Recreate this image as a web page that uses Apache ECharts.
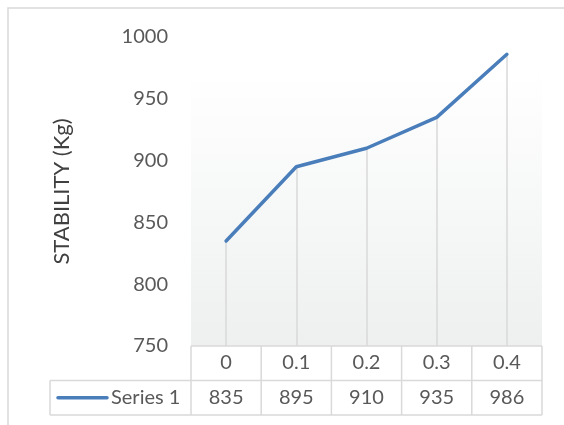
<!DOCTYPE html>
<html>
<head>
<meta charset="utf-8">
<script src="https://cdn.jsdelivr.net/npm/echarts@6/dist/echarts.min.js"></script>
<style>
  html, body { margin: 0; padding: 0; background: #fff; }
  #main { width: 564px; height: 425px; }
</style>
</head>
<body>
<div id="main"></div>
<script>
var categories = ['0', '0.1', '0.2', '0.3', '0.4'];
var stability = [835, 895, 910, 935, 986];
var seriesName = 'Series 1';
var yTicks = [750, 800, 850, 900, 950, 1000];

var yMin = yTicks[0], yMax = yTicks[yTicks.length - 1];
var font = 'Lato, "Open Sans", sans-serif';
var textGray = '#595959';
var borderGray = '#d9d9d9';
var lineBlue = '#4a7ebb';

// drop lines from each point down to the axis
var dropLines = stability.map(function (v, i) {
    return [{ xAxis: i, yAxis: yMin }, { xAxis: i, yAxis: v }];
});

var option = {
    animation: false,
    backgroundColor: '#fff',
    grid: {
        left: 191, right: 22, top: 37, bottom: 79,
        show: true,
        borderWidth: 0,
        backgroundColor: new echarts.graphic.LinearGradient(0, 0, 0, 1, [
            { offset: 0, color: '#ffffff' },
            { offset: 0.1, color: '#ffffff' },
            { offset: 1, color: '#eef0f0' }
        ])
    },
    xAxis: [
        {
            type: 'category',
            data: categories,
            boundaryGap: true,
            axisLine: { show: false },
            axisTick: { show: false },
            axisLabel: { color: textGray, fontFamily: font, fontSize: 20, margin: 7 }
        },
        {
            type: 'category',
            position: 'bottom',
            offset: 35,
            data: stability.map(String),
            axisLine: { show: false },
            axisTick: { show: false },
            axisLabel: { color: textGray, fontFamily: font, fontSize: 20, margin: 7 }
        }
    ],
    yAxis: {
        type: 'value',
        min: yMin,
        max: yMax,
        interval: 50,
        name: 'STABILITY (Kg)',
        nameLocation: 'middle',
        nameGap: 118,
        nameRotate: 90,
        nameTextStyle: { color: '#404040', fontFamily: font, fontSize: 22 },
        axisLine: { show: false },
        axisTick: { show: false },
        splitLine: { show: false },
        axisLabel: {
            color: textGray, fontFamily: font, fontSize: 20, margin: 23,
            formatter: function (v) { return String(v); }
        }
    },
    series: [{
        name: seriesName,
        type: 'line',
        data: stability,
        symbol: 'none',
        lineStyle: { color: lineBlue, width: 3.5, cap: 'round', join: 'round' },
        z: 5,
        markLine: {
            silent: true,
            symbol: 'none',
            label: { show: false },
            lineStyle: { color: borderGray, width: 1.5, type: 'solid' },
            data: dropLines
        }
    }]
};

var chart = echarts.init(document.getElementById('main'));
chart.setOption(option);

// data table borders and legend key, placed from the axis scales
function buildTable() {
    var x0 = chart.convertToPixel({ xAxisIndex: 0 }, 0);
    var x1 = chart.convertToPixel({ xAxisIndex: 0 }, 1);
    var band = x1 - x0;
    var tLeft = x0 - band / 2;
    var tRight = tLeft + band * categories.length;
    var tTop = chart.convertToPixel({ yAxisIndex: 0 }, yMin);
    var rowH = 34.5;
    var legendLeft = 50;
    var ls = { stroke: borderGray, lineWidth: 1.5 };
    var g = [];

    g.push({ type: 'rect', shape: { x: 8, y: 8, width: 700, height: 600 },
        style: { fill: 'none', stroke: borderGray, lineWidth: 1.5 }, z: 0 });

    g.push({ type: 'line', shape: { x1: tLeft, y1: tTop, x2: tRight, y2: tTop }, style: ls });
    g.push({ type: 'line', shape: { x1: legendLeft, y1: tTop + rowH, x2: tRight, y2: tTop + rowH }, style: ls });
    g.push({ type: 'line', shape: { x1: legendLeft, y1: tTop + 2 * rowH, x2: tRight, y2: tTop + 2 * rowH }, style: ls });
    for (var i = 0; i <= categories.length; i++) {
        var x = tLeft + band * i;
        g.push({ type: 'line', shape: { x1: x, y1: tTop, x2: x, y2: tTop + 2 * rowH }, style: ls });
    }
    g.push({ type: 'line', shape: { x1: legendLeft, y1: tTop + rowH, x2: legendLeft, y2: tTop + 2 * rowH }, style: ls });

    var ly = tTop + rowH * 1.5;
    g.push({ type: 'line', shape: { x1: 58, y1: ly, x2: 107, y2: ly },
        style: { stroke: lineBlue, lineWidth: 3.5, lineCap: 'round' } });
    g.push({ type: 'text', x: 111, y: ly,
        style: { text: seriesName, fill: textGray, font: '20px ' + font, verticalAlign: 'middle' } });
    return g;
}

chart.setOption({ graphic: buildTable() });
</script>
</body>
</html>
